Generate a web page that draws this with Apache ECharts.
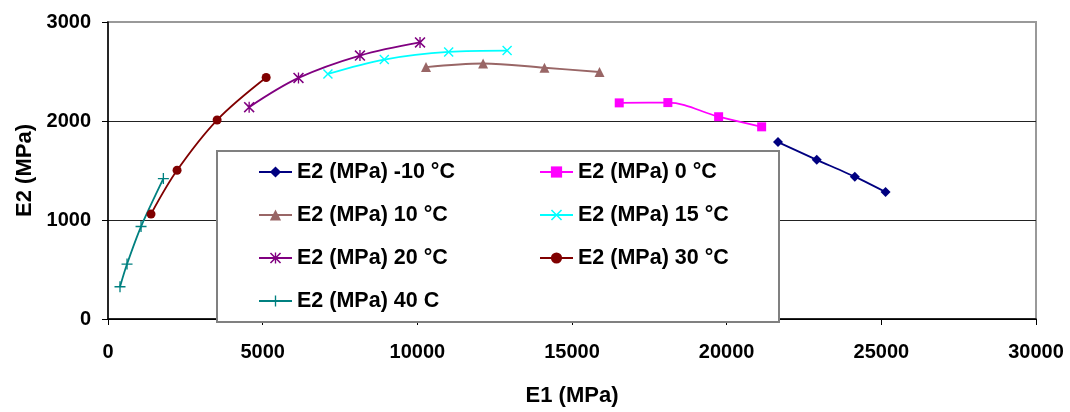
<!DOCTYPE html>
<html>
<head>
<meta charset="utf-8">
<script src="https://cdn.jsdelivr.net/npm/echarts@6/dist/echarts.min.js"></script>
<style>
html,body{margin:0;padding:0;background:#fff;}
#chart{width:1070px;height:412px;}
</style>
</head>
<body>
<div id="chart"></div>
<script>
// Data: [E1 (MPa), E2 (MPa)]
var sM10 = [[21660,1787],[22913,1608],[24142,1438],[25136,1283]];
var s0   = [[16527,2183],[18099,2186],[19740,2043],[21131,1941]];
var s10  = [[10281,2545],[12126,2581],[14110,2538],[15890,2495]];
var s15  = [[7110,2475],[8932,2621],[11013,2698],[12902,2711]];
var s20  = [[4563,2140],[6158,2435],[8145,2661],[10087,2794]];
var s30  = [[1391,1060],[2233,1502],[3527,2010],[5113,2439]];
var s40  = [[388,326],[615,555],[1068,934],[1790,1418]];

var names = ['E2 (MPa) -10 °C','E2 (MPa) 0 °C','E2 (MPa) 10 °C','E2 (MPa) 15 °C','E2 (MPa) 20 °C','E2 (MPa) 30 °C','E2 (MPa) 40 C'];
var xTicks = [0,5000,10000,15000,20000,25000,30000];
var yTicks = [0,1000,2000,3000];

var FONT = '"Liberation Sans", Arial, sans-serif';
var X_PATH = 'path://M0,1L1,0L5,4L9,0L10,1L6,5L10,9L9,10L5,6L1,10L0,9L4,5Z';
var AST_PATH = 'path://M0,1L1,0L5,4L9,0L10,1L6,5L10,9L9,10L5,6L1,10L0,9L4,5ZM4.4,0L5.6,0L5.6,10L4.4,10Z';
var PLUS_PATH = 'path://M4.4,0L5.6,0L5.6,4.4L10,4.4L10,5.6L5.6,5.6L5.6,10L4.4,10L4.4,5.6L0,5.6L0,4.4L4.4,4.4Z';

function mk(name, data, color, symbol, size, smooth) {
  return {
    name: name, type: 'line', data: data, smooth: smooth,
    symbol: symbol, symbolSize: size, showSymbol: true,
    lineStyle: {color: color, width: 1.8},
    itemStyle: {color: color},
    emphasis: {disabled: true}, z: 2
  };
}
function plain(v) { return String(v); }

var chart = echarts.init(document.getElementById('chart'), null, {renderer: 'canvas'});
var legendCommon = {
  orient: 'vertical', itemWidth: 33, itemHeight: 14, itemGap: 21,
  padding: 0, selectedMode: false,
  textStyle: {fontFamily: FONT, fontWeight: 'bold', fontSize: 21.5, color: '#000', lineHeight: 22}
};
chart.setOption({
  animation: false,
  backgroundColor: '#fff',
  grid: {left: 108, right: 34, top: 22, bottom: 89, show: true, borderColor: '#999', borderWidth: 2, backgroundColor: 'transparent'},
  xAxis: {
    type: 'value', min: xTicks[0], max: xTicks[xTicks.length-1], interval: 5000,
    name: 'E1 (MPa)', nameLocation: 'middle', nameGap: 66,
    nameTextStyle: {fontFamily: FONT, fontWeight: 'bold', fontSize: 22, color: '#000'},
    axisLine: {show: true, onZero: false, lineStyle: {color: '#000', width: 1.5}},
    axisTick: {show: true, inside: false, length: 6, lineStyle: {color: '#000'}},
    axisLabel: {margin: 23, fontFamily: FONT, fontWeight: 'bold', fontSize: 20, color: '#000', formatter: plain},
    splitLine: {show: false}
  },
  yAxis: {
    type: 'value', min: yTicks[0], max: yTicks[yTicks.length-1], interval: 1000,
    name: 'E2 (MPa)', nameLocation: 'middle', nameGap: 70, nameRotate: 90,
    nameTextStyle: {fontFamily: FONT, fontWeight: 'bold', fontSize: 22, color: '#000'},
    axisLine: {show: true, onZero: false, lineStyle: {color: '#000', width: 1.5}},
    axisTick: {show: true, inside: false, length: 6, lineStyle: {color: '#000'}},
    axisLabel: {margin: 17, fontFamily: FONT, fontWeight: 'bold', fontSize: 20, color: '#000', formatter: plain},
    splitLine: {show: true, lineStyle: {color: ['#000','#222','#222','#999'], width: 1}}
  },
  graphic: {elements: [{
    type: 'rect', left: 216, top: 150, z: 3,
    shape: {width: 562, height: 171},
    style: {fill: '#fff', stroke: '#808080', lineWidth: 2}
  }]},
  legend: [
    Object.assign({left: 258, top: 161, data: [names[0], names[2], names[4], names[6]]}, legendCommon),
    Object.assign({left: 539, top: 161, data: [names[1], names[3], names[5]]}, legendCommon)
  ],
  series: [
    mk(names[0], sM10, '#000080', 'diamond', 10, 0.2),
    mk(names[1], s0, '#FF00FF', 'rect', 9, 0.35),
    mk(names[2], s10, '#996666', 'triangle', 10, 0.35),
    mk(names[3], s15, '#00FFFF', X_PATH, 10, 0.35),
    mk(names[4], s20, '#800080', AST_PATH, 11, 0.35),
    mk(names[5], s30, '#800000', 'circle', 9, 0.35),
    mk(names[6], s40, '#008080', PLUS_PATH, 11, 0.3)
  ]
});
</script>
</body>
</html>
